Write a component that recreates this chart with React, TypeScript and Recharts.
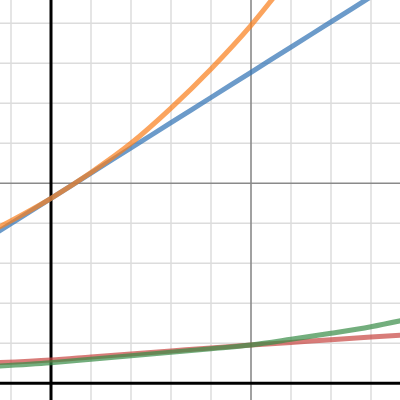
import React from "react";
import { LineChart, Line, XAxis, YAxis, ReferenceLine } from "recharts";

const X_DOMAIN: [number, number] = [-1.275, 8.725];
const Y_DOMAIN: [number, number] = [-0.4175, 9.5825];

const gridX = [-1, 1, 2, 3, 4, 6, 7, 8];
const gridY = [1, 2, 3, 4, 6, 7, 8, 9];
const majorX = [5];
const majorY = [5];

const xsTop = [-1.5, 0, 1, 2, 3, 4, 5, 6, 7, 8, 9];
const blueVals = [3.68, 4.625, 5.255, 5.885, 6.515, 7.145, 7.775, 8.405, 9.035, 9.665, 10.295];
const xsOrange = [-1.5, 0, 1, 2, 3, 4, 5, 6];
const orangeVals = [3.8, 4.625, 5.27, 6.0, 6.88, 7.86, 8.95, 10.2];
const xsBottom = [-1.5, 0, 1, 2, 3, 4, 5, 6, 7, 8, 9];
const redVals = [0.51, 0.585, 0.66, 0.735, 0.81, 0.885, 0.955, 1.02, 1.09, 1.155, 1.215];
const greenVals = [0.42, 0.515, 0.6, 0.69, 0.775, 0.865, 0.96, 1.1, 1.25, 1.415, 1.62];

const toRows = (xs: number[], ys: number[]) => xs.map((x, i) => ({ x, y: ys[i] }));

const blueData = toRows(xsTop, blueVals);
const orangeData = toRows(xsOrange, orangeVals);
const redData = toRows(xsBottom, redVals);
const greenData = toRows(xsBottom, greenVals);

export default function App() {
  return (
    <div style={{ position: "fixed", top: 0, left: 0, width: 400, height: 400, background: "#fff", overflow: "hidden" }}>
      <LineChart width={400} height={400} margin={{ top: 0, right: 0, bottom: 0, left: 0 }}>
        <XAxis type="number" dataKey="x" domain={X_DOMAIN} allowDataOverflow hide />
        <YAxis type="number" dataKey="y" domain={Y_DOMAIN} allowDataOverflow hide />
        {gridX.map((v) => (
          <ReferenceLine key={"gx" + v} x={v} stroke="#dcdcdc" strokeWidth={1.5} />
        ))}
        {gridY.map((v) => (
          <ReferenceLine key={"gy" + v} y={v} stroke="#dcdcdc" strokeWidth={1.5} />
        ))}
        {majorX.map((v) => (
          <ReferenceLine key={"mx" + v} x={v} stroke="#8a8a8a" strokeWidth={1.6} />
        ))}
        {majorY.map((v) => (
          <ReferenceLine key={"my" + v} y={v} stroke="#8a8a8a" strokeWidth={1.6} />
        ))}
        <ReferenceLine x={0} stroke="#000" strokeWidth={3} />
        <ReferenceLine y={0} stroke="#000" strokeWidth={3} />
        <Line data={redData} dataKey="y" type="monotone" stroke="#c74440" strokeOpacity={0.7} strokeWidth={5} dot={false} activeDot={false} isAnimationActive={false} />
        <Line data={blueData} dataKey="y" type="monotone" stroke="#2d70b3" strokeOpacity={0.7} strokeWidth={5} dot={false} activeDot={false} isAnimationActive={false} />
        <Line data={greenData} dataKey="y" type="monotone" stroke="#388c46" strokeOpacity={0.7} strokeWidth={5} dot={false} activeDot={false} isAnimationActive={false} />
        <Line data={orangeData} dataKey="y" type="monotone" stroke="#fa7e19" strokeOpacity={0.7} strokeWidth={5} dot={false} activeDot={false} isAnimationActive={false} />
      </LineChart>
    </div>
  );
}
